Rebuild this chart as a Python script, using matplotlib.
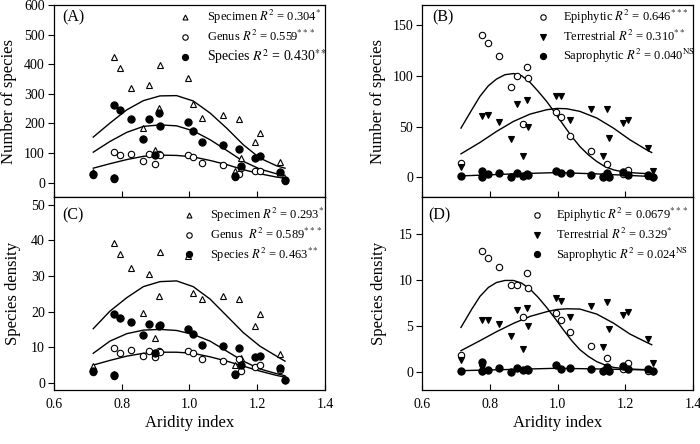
import numpy as np
import matplotlib.pyplot as plt
from matplotlib.ticker import FormatStrFormatter

plt.rcParams['font.family'] = ['Liberation Serif', 'DejaVu Serif']
plt.rcParams['mathtext.fontset'] = 'stix'

# aridity index of the sampling sites
site_x = [0.716, 0.777, 0.777, 0.795, 0.826, 0.862, 0.881, 0.897, 0.911, 0.913,
          0.995, 1.009, 1.038, 1.100, 1.134, 1.147, 1.152, 1.194, 1.208, 1.266, 1.282]

# (A) number of species
specimen_num = [35, 425, 20, 386, 319, 184, 330, 111, 251, 397,
                352, 266, 220, 227, 41, 215, 83, 139, 169, 70, 12]
genus_num = [25, 103, 14, 92, 97, 72, 97, 64, 97, 95,
             92, 88, 66, 59, 20, 30, 50, 41, 41, 30, 7]
species_num = [30, 263, 16, 246, 215, 148, 215, 94, 235, 193,
               204, 173, 136, 126, 21, 114, 58, 83, 91, 37, 8]

# (C) species density
specimen_den = [4.7, 39.1, 2.5, 36.1, 32.2, 19.5, 30.5, 12.7, 24.4, 36.6,
                35.5, 25.3, 23.5, 24.4, 5.0, 23.5, 6.9, 15.9, 19.2, 8.0, 1.2]
genus_den = [3.0, 9.7, 2.0, 8.4, 9.1, 7.5, 8.9, 7.3, 8.9, 8.7,
             8.9, 8.4, 6.6, 6.1, 2.3, 6.6, 3.3, 4.5, 4.9, 3.6, 0.8]
species_den = [3.3, 19.2, 2.3, 18.3, 17.2, 13.4, 16.4, 8.4, 15.9, 16.2,
               15.2, 13.6, 10.6, 10.3, 2.6, 9.7, 5.0, 7.3, 7.5, 4.2, 0.9]

# (B) number of species by life form
epi_num = [13.9, 140.8, 1.0, 132.5, 119.4, 89.0, 100.2, 52.1, 108.5, 97.9,
           64.3, 59.0, 40.9, 26.0, 1.5, 12.9, 1.0, 3.0, 7.3, 1.5, 0.5]
ter_num = [10.5, 60.7, 4.0, 61.7, 54.4, 37.6, 72.5, 21.4, 76.5, 49.5,
           79.8, 80.4, 56.7, 67.3, 21.4, 67.6, 38.6, 53.4, 56.7, 29.3, 6.6]
sap_num = [1.2, 6.6, 0.6, 3.3, 4.0, 0.6, 4.0, 1.6, 3.0, 2.0,
           6.6, 4.0, 4.0, 2.3, 0.6, 4.0, 0.6, 5.0, 2.3, 2.3, 0.0]

# (D) species density by life form
epi_den = [1.85, 13.18, 0.1, 12.35, 11.44, 9.44, 9.44, 5.99, 10.75, 9.08,
           6.39, 5.67, 4.36, 2.83, 0.1, 1.45, 0.1, 0.3, 0.91, 0.1, 0.05]
ter_den = [1.27, 5.67, 0.4, 5.67, 5.19, 3.92, 6.76, 2.47, 6.94, 4.94,
           7.99, 7.66, 5.92, 7.19, 2.65, 7.55, 4.65, 6.21, 6.46, 3.56, 0.91]
sap_den = [0.11, 1.09, 0.04, 0.22, 0.40, 0.0, 0.40, 0.22, 0.29, 0.2,
           0.76, 0.33, 0.44, 0.26, 0.04, 0.47, 0.07, 0.65, 0.29, 0.29, 0.04]

# fitted curves
fit_x_left = [0.716, 0.765, 0.815, 0.864, 0.913, 0.962, 1.011, 1.061, 1.110, 1.159, 1.208, 1.257, 1.282]
fit_specimen_num = [154, 201, 246, 277, 293, 294, 276, 235, 184, 128, 83, 57, 49]
fit_species_num = [103, 139, 170, 190, 195, 192, 175, 145, 109, 72, 46, 30, 25]
fit_genus_num = [49, 64, 78, 89, 93, 92, 87, 75, 61, 44, 30, 19, 16]
fit_specimen_den = [15.2, 20.1, 23.9, 27.0, 28.4, 28.6, 27.0, 23.5, 18.8, 14.1, 10.3, 7.5, 6.1]
fit_species_den = [8.3, 11.7, 13.8, 14.8, 15.0, 14.7, 13.6, 11.7, 8.9, 6.1, 3.9, 2.6, 2.0]
fit_genus_den = [5.0, 6.3, 7.5, 8.3, 8.6, 8.6, 8.3, 7.3, 6.1, 4.7, 3.3, 2.1, 1.6]

fit_x_epi = [0.715, 0.747, 0.771, 0.796, 0.820, 0.845, 0.870, 0.894, 0.919, 0.943, 0.968, 0.993,
             1.017, 1.042, 1.066, 1.091, 1.116, 1.140, 1.165, 1.189, 1.214, 1.239, 1.263, 1.278]
fit_epi_num = [48.5, 66.6, 79.8, 90.3, 96.9, 101.2, 102.3, 100.2, 93.6, 84.7, 74.8, 63.3,
               51.8, 40.2, 30.3, 22.1, 15.5, 10.5, 7.3, 5.6, 4.6, 4.0, 3.6, 3.4]
fit_epi_den = [4.83, 6.83, 8.21, 9.19, 9.73, 9.95, 9.95, 9.66, 9.0, 8.1, 7.0, 5.8,
               4.58, 3.38, 2.4, 1.67, 1.09, 0.73, 0.47, 0.36, 0.29, 0.25, 0.22, 0.22]
fit_x_ter = [0.715, 0.771, 0.820, 0.870, 0.919, 0.968, 0.998, 1.027, 1.066, 1.116, 1.165, 1.214, 1.263, 1.278]
fit_ter_num = [23.1, 34.3, 45.2, 55.1, 62.3, 66.6, 67.9, 67.6, 65.0, 58.4, 48.5, 36.9, 27.0, 24.4]
fit_ter_den = [2.29, 3.38, 4.36, 5.27, 6.03, 6.54, 6.78, 6.86, 6.83, 6.28, 5.30, 4.10, 3.2, 2.94]
fit_x_sap = [0.715, 0.870, 0.998, 1.116, 1.278]
fit_sap_num = [1.3, 3.3, 4.6, 3.3, 0.7]
fit_sap_den = [0.11, 0.25, 0.37, 0.3, 0.18]

legend_A = ['Specimen $R^2$ = 0.304$^{*}$', 'Genus $R^2$ = 0.559$^{***}$', 'Species $R^2$ = 0.430$^{**}$']
legend_C = ['Specimen $R^2$ = 0.293$^{*}$', 'Genus  $R^2$ = 0.589$^{***}$', 'Species $R^2$ = 0.463$^{**}$']
legend_B = ['Epiphytic $R^2$ = 0.646$^{***}$', 'Terrestrial $R^2$ = 0.310$^{**}$',
            'Saprophytic $R^2$ = 0.040$^{\\mathrm{NS}}$']
legend_D = ['Epiphytic $R^2$ = 0.0679$^{***}$', 'Terrestrial $R^2$ = 0.329$^{*}$',
            'Saprophytic $R^2$ = 0.024$^{\\mathrm{NS}}$']

fig = plt.figure(figsize=(7, 4.44), dpi=100)
axA = fig.add_axes([0.0771, 0.5552, 0.3871, 0.4336])
axC = fig.add_axes([0.0771, 0.1216, 0.3871, 0.4336])
axB = fig.add_axes([0.6029, 0.5552, 0.3871, 0.4336])
axD = fig.add_axes([0.6029, 0.1216, 0.3871, 0.4336])

tri = dict(marker='^', ls='none', ms=4.2, mfc='white', mec='black', mew=0.8)
ocirc = dict(marker='o', ls='none', ms=4.6, mfc='white', mec='black', mew=0.8)
fcirc = dict(marker='o', ls='none', ms=5.2, mfc='black', mec='black', mew=0.8)
dtri = dict(marker='v', ls='none', ms=5.0, mfc='black', mec='black', mew=0.8)
line = dict(color='black', lw=1.0)


def style(ax, ylim, yticks, bottom):
    ax.set_xlim(0.6, 1.4)
    ax.set_ylim(*ylim)
    ax.set_xticks([0.6, 0.8, 1.0, 1.2, 1.4])
    ax.set_yticks(yticks)
    ax.xaxis.set_major_formatter(FormatStrFormatter('%.1f'))
    ax.tick_params(axis='x', direction='in', length=4, width=0.8, labelsize=10, pad=6,
                   labelbottom=bottom)
    ax.tick_params(axis='y', direction='out', length=4.5, width=0.8, labelsize=10, pad=2)
    for s in ax.spines.values():
        s.set_linewidth(0.9)


def add_legend(ax, handles, labels, x, y, pad):
    leg = ax.legend(handles, labels, loc='upper left', bbox_to_anchor=(x, y), frameon=False,
                    fontsize=9, borderpad=0, borderaxespad=0, handlelength=1.0,
                    handletextpad=pad, labelspacing=0.25, markerscale=0.85)
    return leg


# (A)
axA.plot(fit_x_left, fit_specimen_num, **line)
axA.plot(fit_x_left, fit_species_num, **line)
axA.plot(fit_x_left, fit_genus_num, **line)
hA1, = axA.plot(site_x, specimen_num, **tri)
hA2, = axA.plot(site_x, genus_num, **ocirc)
hA3, = axA.plot(site_x, species_num, **fcirc)
style(axA, (-50, 600), [0, 100, 200, 300, 400, 500, 600], False)
axA.set_ylabel('Number of species', fontsize=12)
axA.yaxis.set_label_coords(-0.137, 0.5)
leg = add_legend(axA, [hA1, hA2, hA3], legend_A, 0.460, 0.985, 1.26)
leg.get_texts()[2].set_fontsize(10)
axA.text(0.03, 0.938, '(A)', transform=axA.transAxes, fontsize=11.5, va='center')

# (C)
axC.plot(fit_x_left, fit_specimen_den, **line)
axC.plot(fit_x_left, fit_species_den, **line)
axC.plot(fit_x_left, fit_genus_den, **line)
hC1, = axC.plot(site_x, specimen_den, **tri)
hC2, = axC.plot(site_x, genus_den, **ocirc)
hC3, = axC.plot(site_x, species_den, **fcirc)
style(axC, (-2, 52), [0, 10, 20, 30, 40, 50], True)
axC.set_ylabel('Species density', fontsize=12)
axC.yaxis.set_label_coords(-0.122, 0.5)
axC.set_xlabel('Aridity index', fontsize=12)
axC.xaxis.set_label_coords(0.5, -0.13)
add_legend(axC, [hC1, hC2, hC3], legend_C, 0.476, 0.955, 1.16)
axC.text(0.03, 0.909, '(C)', transform=axC.transAxes, fontsize=11.5, va='center')

# (B)
axB.plot(fit_x_epi, fit_epi_num, **line)
axB.plot(fit_x_ter, fit_ter_num, **line)
axB.plot(fit_x_sap, fit_sap_num, **line)
hB1, = axB.plot(site_x, epi_num, **ocirc)
hB2, = axB.plot(site_x, ter_num, **dtri)
hB3, = axB.plot(site_x, sap_num, **fcirc)
style(axB, (-20, 170), [0, 50, 100, 150], False)
axB.set_ylabel('Number of species', fontsize=12)
axB.yaxis.set_label_coords(-0.133, 0.5)
add_legend(axB, [hB1, hB2, hB3], legend_B, 0.423, 0.985, 1.1)
axB.text(0.037, 0.938, '(B)', transform=axB.transAxes, fontsize=11.5, va='center')

# (D)
axD.plot(fit_x_epi, fit_epi_den, **line)
axD.plot(fit_x_ter, fit_ter_den, **line)
axD.plot(fit_x_sap, fit_sap_den, **line)
hD1, = axD.plot(site_x, epi_den, **ocirc)
hD2, = axD.plot(site_x, ter_den, **dtri)
hD3, = axD.plot(site_x, sap_den, **fcirc)
style(axD, (-2, 19), [0, 5, 10, 15], True)
axD.set_ylabel('Species density', fontsize=12)
axD.yaxis.set_label_coords(-0.129, 0.5)
axD.set_xlabel('Aridity index', fontsize=12)
axD.xaxis.set_label_coords(0.5, -0.13)
add_legend(axD, [hD1, hD2, hD3], legend_D, 0.401, 0.955, 1.02)
axD.text(0.022, 0.909, '(D)', transform=axD.transAxes, fontsize=11.5, va='center')

fig.savefig('out.png', dpi=100)
